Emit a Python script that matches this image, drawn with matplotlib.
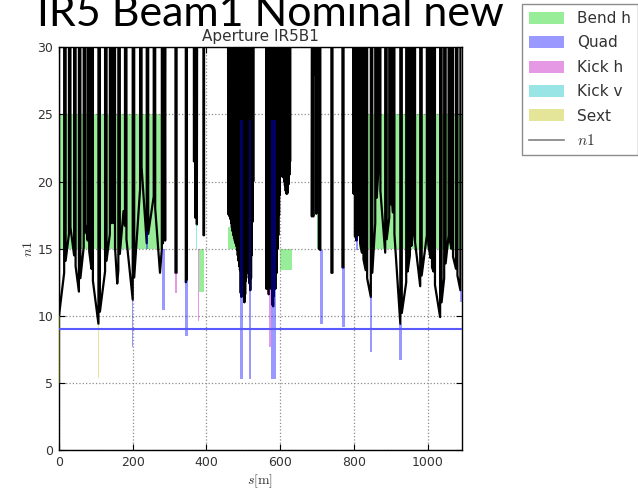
import matplotlib
matplotlib.use('Agg')
import matplotlib.pyplot as plt

plt.rcParams['mathtext.fontset'] = 'cm'

# ---------------- data ----------------
TOP = 60  # off-scale aperture value (n1 well above plotted range)

n1_left_arc = [
    (0, TOP), (0, 10.0), (14, 13.2), (14, TOP), (18, TOP), (18, 14.1),
    (27, 16.1), (27, TOP), (31, TOP), (31, 16.6), (41, 14.5), (41, TOP), (45, TOP), (45, 13.7),
    (54, 11.8), (54, TOP), (58, TOP), (58, 12.8), (67, 15.1), (67, TOP), (71, TOP), (71, 16.2),
    (73, 16.7), (78, 15.6), (78, TOP), (82, TOP), (82, 14.8), (88, 13.5), (88, TOP), (92, TOP), (92, 12.6),
    (107, 9.4), (107, TOP), (111, TOP), (111, 10.3), (125, 13.3), (125, TOP), (129, TOP), (129, 14.1),
    (138, 16.1), (138, TOP), (142, TOP), (142, 16.9), (146, 17.8), (148, 16.9), (148, TOP), (152, TOP), (152, 15.1),
    (158, 12.4), (161, 13.4), (161, TOP), (165, TOP), (165, 14.6), (175, 17.8),
    (179, 16.7), (179, TOP), (183, TOP), (183, 15.7), (200, 11.2), (200, TOP), (204, TOP), (204, 12.85),
    (220, 19.45), (220, TOP), (224, TOP), (224, 21.1), (238, 15.4), (238, TOP), (242, TOP), (242, 16.1),
    (257, 18.9), (257, TOP), (261, TOP), (261, 18.0), (274, 13.2), (279, 15.0), (279, TOP),
    (282, 15.4), (285, TOP), (288, 15.6), (290, TOP),
]

n1_ir_left = [
    (316, TOP), (316, 13.2), (319, 13.2), (319, TOP),
    (344, TOP), (344, 12.5), (347, 12.7), (347, TOP),
    (366, TOP), (366, 21.5), (370, 21.5), (370, 17.3), (372, TOP), (374, 16.8), (376, TOP),
    (392, TOP), (392, 16.0), (393.5, 16.0), (393.5, TOP), (458, TOP),
]

n1_triplet_left = [
    (459, 17.6), (460, TOP), (461, 17.5), (462, TOP), (463, 17.4), (464, TOP), (465, 17.2), (466, TOP),
    (467, 16.9), (468, TOP), (469, 16.6), (470, TOP), (471, 16.3), (472, TOP), (473, 16.0), (474, TOP),
    (475, 15.8), (476, TOP), (477, 15.6), (478, TOP), (479, 15.4), (480, TOP), (481, 15.2), (482, TOP),
    (483, 14.9), (484, TOP), (485, 14.5), (486, TOP), (487, 14.1), (488, TOP), (489, 13.7), (490, TOP),
    (491, 13.4), (492, TOP), (493, 11.7), (494, TOP), (495, 11.4), (496, TOP), (497, 12.6), (498, TOP),
    (499, 13.4), (500, TOP), (501, 12.2), (502, TOP), (503, 11.0), (504, TOP), (505, 11.6), (506, TOP),
    (507, 12.6), (508, TOP), (509, 13.3), (510, TOP), (511, 13.6), (512, TOP), (513, 13.2), (514, TOP),
    (515, 12.8), (516, TOP), (517, 12.4), (518, TOP), (519, 11.9), (520, TOP), (521, 12.8), (522, TOP),
    (523, 14.5), (524, TOP), (525, 17.0), (526, TOP), (527, 20.0), (528, TOP), (562, TOP),
]

n1_triplet_right = [
    (563, 12.0), (564, TOP), (565, 15.5), (566, TOP), (567, 16.0), (568, TOP), (569, 11.6), (570, TOP),
    (571, 15.0), (572, TOP), (573, 14.5), (574, TOP), (575, 12.0), (576, TOP), (577, 14.0), (578, TOP),
    (579, 10.8), (580, TOP), (581, 10.7), (582, TOP), (583, 11.5), (584, TOP), (585, 13.0), (586, TOP),
    (587, 12.0), (588, TOP), (589, 14.0), (590, TOP), (591, 13.2), (592, TOP), (593, 15.0), (594, TOP),
    (595, 16.0), (596, TOP), (597, 17.5), (598, TOP), (599, 19.0), (600, TOP),
    (601, 20.4), (602, TOP), (603, 20.4), (604, TOP), (605, 20.4), (606, TOP), (607, 20.4), (608, TOP),
    (609, 20.3), (610, TOP), (611, 20.0), (612, TOP), (613, 19.7), (614, TOP), (615, 19.3), (616, TOP),
    (617, 19.1), (618, TOP), (619, 19.1), (620, TOP), (621, 19.2), (622, TOP), (623, 19.8), (624, TOP),
    (625, 20.5), (626, TOP), (627, 21.5), (628, TOP),
]

n1_ir_right = [
    (686, TOP), (686, 17.4), (688, TOP), (690, 17.4), (692, TOP), (694, 28.0), (696, TOP), (698, 17.6), (700, TOP),
    (705, TOP), (705, 15.0), (709, 14.9), (709, TOP),
    (739, TOP), (739, 13.2), (742, 13.2), (742, TOP),
    (769, TOP), (769, 13.6), (772, 13.6), (772, TOP),
    (799, TOP), (799, 19.1), (801, TOP), (803, 15.9), (805, TOP), (807, 15.6), (809, TOP), (811, 16.2),
]

n1_right_arc = [
    (813, 16.0), (813, TOP), (817, TOP), (817, 15.4), (822, 14.7), (822, TOP), (826, TOP), (826, 14.2),
    (832, 13.4), (832, TOP), (836, TOP), (836, 12.8), (846, 11.4), (846, TOP), (850, TOP), (850, 13.2),
    (858, 16.9), (858, TOP), (862, TOP), (862, 18.8), (867, 21.1), (868, 20.7), (868, TOP), (872, TOP), (872, 19.3),
    (885, 14.7), (885, TOP), (889, TOP), (889, 15.7), (896, 17.3), (896, TOP), (900, TOP), (900, 18.3),
    (903, 19.0), (906, 17.7), (906, TOP), (910, TOP), (910, 16.1), (926, 9.4), (926, TOP), (930, TOP), (930, 10.2),
    (942, 12.5), (942, TOP), (946, TOP), (946, 13.3), (952, 14.5), (952, TOP), (956, TOP), (956, 15.2),
    (962, 16.4), (962, TOP), (966, TOP), (966, 15.5), (980, 12.2), (980, TOP), (984, TOP), (984, 13.0),
    (998, 16.0), (998, TOP), (1002, TOP), (1002, 15.3), (1008, 14.3), (1008, TOP), (1012, TOP), (1012, 13.6),
    (1016, 13.3), (1016, TOP), (1020, TOP), (1020, 12.3), (1034, 9.9), (1034, TOP), (1038, TOP), (1038, 11.0),
    (1045, 12.8), (1045, TOP), (1049, TOP), (1049, 13.9), (1057, 16.0), (1057, TOP), (1061, TOP), (1061, 15.5),
    (1065, 15.0), (1065, TOP), (1069, TOP), (1069, 14.4), (1077, 13.5), (1077, TOP), (1081, TOP), (1081, 13.0),
    (1089, 11.9), (1089, TOP), (1092, TOP),
]

# elements: start, end, lower, upper
bend_s0 = [0, 381, 459, 600, 700, 813]
bend_s1 = [280, 394, 482, 632, 712, 1092]
bend_lo = [15.0, 11.8, 15.0, 13.4, 15.0, 15.0]
bend_hi = [25.0, 15.0, 16.6, 15.0, 18.4, 25.0]

quad_s0 = [197, 235, 279, 343, 491, 515, 575, 709, 769, 806, 843, 923, 1087]
quad_s1 = [202, 241, 287, 349, 498, 522, 589, 716, 776, 812, 849, 930, 1092]
quad_lo = [7.7, 15.0, 10.4, 8.5, 5.3, 5.3, 5.3, 9.4, 9.2, 14.9, 7.3, 6.7, 11.0]
quad_hi = [11.2, 16.3, 15.0, 12.6, 24.6, 24.6, 24.6, 14.9, 13.6, 15.9, 11.4, 9.4, 11.9]

kickh_s0 = [316, 376, 571]
kickh_s1 = [319, 379, 574]
kickh_lo = [11.7, 9.6, 7.7]
kickh_hi = [13.2, 15.0, 12.0]

kickv_s0 = [371]
kickv_s1 = [375]
kickv_lo = [15.0]
kickv_hi = [16.8]

sext_s0 = [0, 107, 1033]
sext_s1 = [1.5, 109, 1035]
sext_lo = [5.0, 5.36, 5.36]
sext_hi = [10.0, 9.4, 9.9]

n1_limit = 9.0

x_ticks = [0, 200, 400, 600, 800, 1000]
y_ticks = [0, 5, 10, 15, 20, 25, 30]

# ---------------- plot ----------------
fig = plt.figure(figsize=(6.38, 4.91), dpi=100)
ax = fig.add_axes([59 / 638, 1 - 450 / 491, (461.5 - 59) / 638, (450 - 47.3) / 491])


def bars(s0, s1, lo, hi, **kw):
    return ax.bar(s0, [h - l for h, l in zip(hi, lo)], width=[b - a for a, b in zip(s0, s1)],
                  bottom=lo, align='edge', linewidth=0, **kw)


h_bend = bars(bend_s0, bend_s1, bend_lo, bend_hi, color='#98ee98', zorder=1, label='Bend h')

segments = [n1_left_arc, n1_ir_left, n1_triplet_left, n1_triplet_right, n1_ir_right, n1_right_arc]
pts = [p for seg in segments for p in seg]
s_vals = [p[0] for p in pts]
n1_vals = [p[1] for p in pts]
line, = ax.plot(s_vals, n1_vals, color='k', lw=1.6, zorder=3, label='$n1$')

h_quad = bars(quad_s0, quad_s1, quad_lo, quad_hi, color='blue', alpha=0.4, zorder=4, label='Quad')
h_kh = bars(kickh_s0, kickh_s1, kickh_lo, kickh_hi, color='m', alpha=0.4, zorder=4, label='Kick h')
h_kv = bars(kickv_s0, kickv_s1, kickv_lo, kickv_hi, color='c', alpha=0.4, zorder=4, label='Kick v')
h_sx = bars(sext_s0, sext_s1, sext_lo, sext_hi, color='y', alpha=0.4, zorder=4, label='Sext')

ax.axhline(n1_limit, color='#5a5aff', lw=1.5, zorder=5)

ax.set_xlim(0, 1092)
ax.set_ylim(0, 30)
ax.set_xticks(x_ticks)
ax.set_yticks(y_ticks)
ax.grid(True, linestyle=':', color='0.55', lw=0.9)
ax.tick_params(direction='in', top=True, right=True, labelsize=9, pad=4, labelcolor='#333333', length=4)
for sp in ax.spines.values():
    sp.set_linewidth(1.0)

ax.set_title('Aperture IR5B1', fontsize=11, pad=4.5, color='#333333')
ax.set_xlabel(r'$s[\mathrm{m}]$', fontsize=10, color='#333333', labelpad=3)
ax.set_ylabel(r'$n1$', fontsize=10, color='#333333', labelpad=2)

leg = fig.legend([h_bend, h_quad, h_kh, h_kv, h_sx, line],
                 ['Bend h', 'Quad', 'Kick h', 'Kick v', 'Sext', '$n1$'],
                 loc='upper left', bbox_to_anchor=(521.7 / 638, 1 - 4 / 491),
                 bbox_transform=fig.transFigure, borderaxespad=0, fontsize=11,
                 handlelength=2.3, handleheight=0.83, handletextpad=0.88, labelspacing=0.62,
                 borderpad=0.45, fancybox=False, edgecolor='0.55', framealpha=1)
for t in leg.get_texts():
    t.set_color('#333333')
for ln in leg.get_lines():
    ln.set_color('0.5')
    ln.set_linewidth(1.2)

big = fig.text(36.7 / 638, 1 - 26 / 491, 'IR5 Beam1 Nominal new', family='Lato',
               fontsize=26, va='baseline', ha='left', color='black')
fig.canvas.draw()
w = big.get_window_extent().width
big.set_fontsize(26 * 468.0 / w)

fig.savefig('out.png', dpi=100)
